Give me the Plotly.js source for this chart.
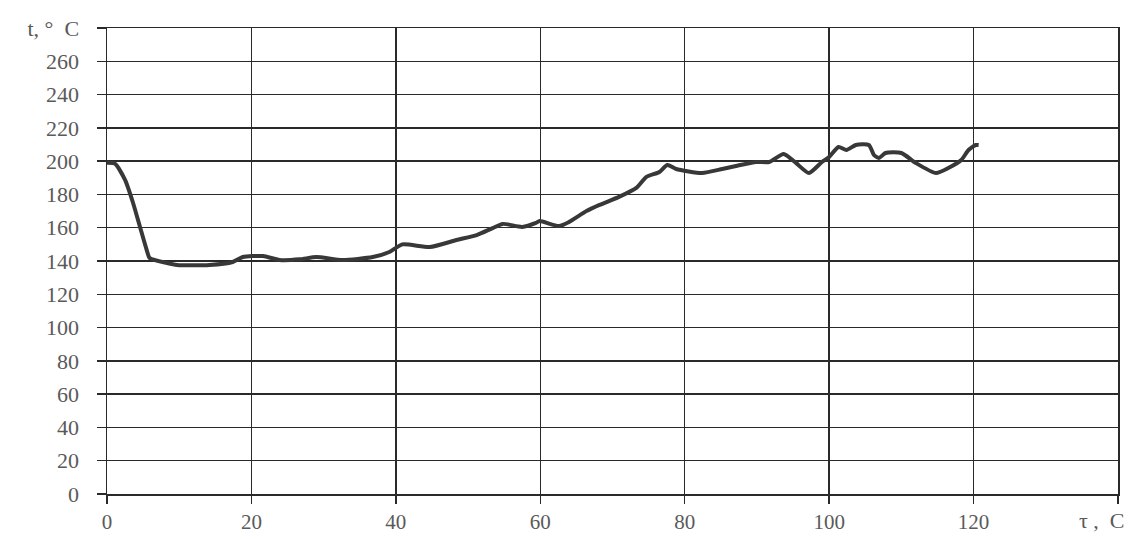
<!DOCTYPE html>
<html>
<head>
<meta charset="utf-8">
<script src="https://cdn.plot.ly/plotly-3.0.1.min.js"></script>
<style>html,body{margin:0;padding:0;background:#fff;}#chart{width:1128px;height:539px;}</style>
</head>
<body>
<div id="chart"></div>
<script>
// Time, s
var timeValues = [0, 1.1, 2.5, 3.6, 4.6, 5.5, 5.9, 8.3, 9.7, 14.2, 17.4, 18.8, 21.6, 23.9, 26.7, 29, 32.6, 36.8, 39.1, 40.9, 44.7, 48.4, 51.2, 53.4, 54.8, 57.5, 59.4, 59.9, 62.6, 64, 66.4, 68.2, 70.9, 73.3, 74.7, 76.5, 77.6, 78.8, 82.4, 85.2, 87.1, 89.9, 91.7, 93.7, 95.4, 97.2, 99, 100, 101.3, 102.4, 103.7, 105.5, 106.2, 106.9, 107.8, 110, 112, 114.8, 116.5, 118.3, 119.3, 120.3, 120.7];
// Temperature, °C
var tempValues = [199, 198.5, 188.7, 175, 160, 146.6, 141.8, 138.8, 137.6, 137.6, 139.4, 142.4, 143, 140.6, 141, 142.4, 140.6, 142.4, 145.4, 150, 148.4, 152.6, 155.6, 159.8, 162.3, 160.5, 162.9, 164, 161, 163.5, 170, 173.7, 178.5, 183.9, 190.5, 193.5, 197.7, 195.3, 192.9, 195.3, 197.1, 199.5, 199.5, 204.3, 198.9, 192.9, 199.5, 202.5, 208.5, 206.7, 209.7, 209.7, 203.7, 201.9, 204.9, 204.9, 198.9, 192.9, 195.9, 200.7, 206.7, 209.7, 209.7];

var xTickVals = [0, 20, 40, 60, 80, 100, 120, 140];
var xTickText = ['0', '20', '40', '60', '80', '100', '120', ''];
var yTickVals = [0, 20, 40, 60, 80, 100, 120, 140, 160, 180, 200, 220, 240, 260, 280];
var yTickText = ['0', '20', '40', '60', '80', '100', '120', '140', '160', '180', '200', '220', '240', '260', 't, °  C'];
var xAxisLabel = 'τ ,  C';

var gridColor = '#2a2a2a';
var textColor = '#5a5a5a';
var fontFam = '"Liberation Serif", "DejaVu Serif", serif';

var trace = {
  x: timeValues,
  y: tempValues,
  type: 'scatter',
  mode: 'lines',
  line: {color: '#383838', width: 4, shape: 'spline', smoothing: 0.6},
  hoverinfo: 'skip'
};

var layout = {
  width: 1128,
  height: 539,
  margin: {l: 107, r: 10, t: 28, b: 45},
  paper_bgcolor: '#ffffff',
  plot_bgcolor: '#ffffff',
  showlegend: false,
  font: {family: fontFam, color: textColor, size: 21},
  xaxis: {
    range: [0, 140],
    tickmode: 'array',
    tickvals: xTickVals,
    ticktext: xTickText,
    showgrid: true,
    gridcolor: gridColor,
    gridwidth: 1.5,
    zeroline: false,
    showline: true,
    linecolor: gridColor,
    linewidth: 1.5,
    mirror: true,
    ticks: 'outside',
    ticklen: 8,
    tickwidth: 1.5,
    tickcolor: gridColor,
    ticklabelstandoff: 0,
    tickfont: {family: fontFam, size: 21, color: textColor}
  },
  yaxis: {
    range: [0, 280],
    tickmode: 'array',
    tickvals: yTickVals,
    ticktext: yTickText,
    showgrid: true,
    gridcolor: gridColor,
    gridwidth: 1.5,
    zeroline: false,
    showline: true,
    linecolor: gridColor,
    linewidth: 1.5,
    mirror: true,
    ticks: 'outside',
    ticklen: 9,
    tickwidth: 1.5,
    tickcolor: gridColor,
    ticklabelstandoff: 13,
    tickfont: {family: fontFam, size: 22, color: textColor}
  },
  annotations: [{
    text: xAxisLabel,
    xref: 'paper', yref: 'paper',
    x: 1.009, y: 0,
    xanchor: 'right', yanchor: 'top',
    yshift: -12,
    showarrow: false,
    font: {family: fontFam, size: 22, color: textColor}
  }]
};

Plotly.newPlot('chart', [trace], layout, {staticPlot: true, displayModeBar: false});
</script>
</body>
</html>
